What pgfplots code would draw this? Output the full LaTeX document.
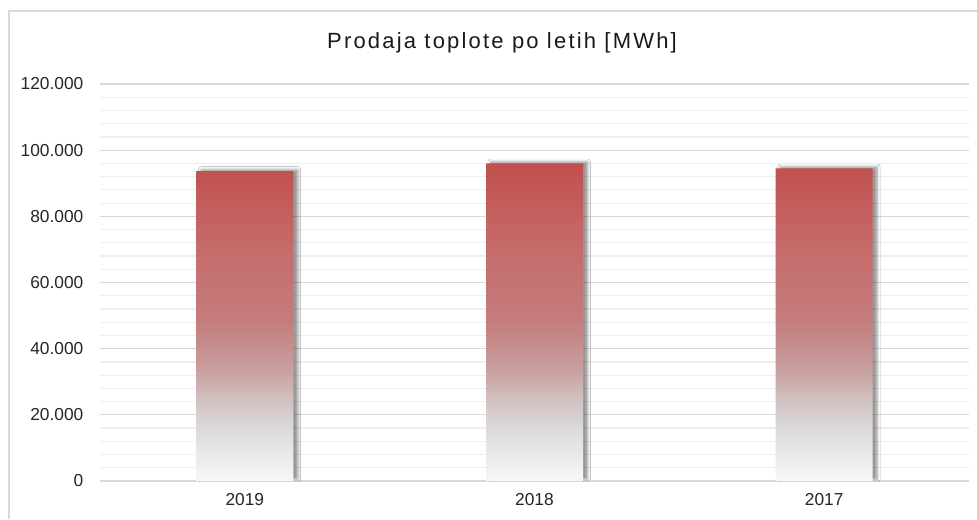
\documentclass[border=0pt]{standalone}
\usepackage{pgfplots}
\pgfplotsset{compat=1.18}
\usepackage{fontspec}
\setmainfont{Liberation Sans}
\newfontfamily\titlefont[LetterSpace=10]{Liberation Sans}
\usetikzlibrary{shadows.blur}
\definecolor{barred}{RGB}{192,80,77}
\definecolor{majgrid}{RGB}{217,217,217}
\definecolor{mingrid}{RGB}{238,238,238}
\definecolor{cA}{RGB}{248,248,248}
\definecolor{cB}{RGB}{222,222,222}
\definecolor{cC}{RGB}{210,195,195}
\definecolor{cD}{RGB}{201,160,160}
\definecolor{cE}{RGB}{196,125,125}
\definecolor{cG}{RGB}{198,105,105}
\definecolor{cF}{RGB}{192,80,77}
\pgfdeclareverticalshading{barshade}{100bp}{color(0bp)=(cA); color(25bp)=(cA); color(32.5bp)=(cB); color(37.5bp)=(cC); color(42.5bp)=(cD); color(50bp)=(cE); color(62.5bp)=(cG); color(75bp)=(cF); color(100bp)=(cF)}
\begin{document}
\begin{tikzpicture}[x=1pt,y=1pt]
\useasboundingbox (0,0) rectangle (732.75,389.25);
\fill[white] (0,0) rectangle (732.75,389.25);
\draw[majgrid, line width=1.5pt] (6.375,0) -- (6.375,381) -- (732.75,381);
\node[anchor=base, font=\titlefont\fontsize{16.5}{19}\selectfont, text=black!90] at (376.5,352.5) {Prodaja toplote po letih [MWh]};
\begin{axis}[
  at={(75pt,28.5pt)}, anchor=south west,
  scale only axis, width=651.75pt, height=297.75pt,
  xmin=-0.5, xmax=2.5, ymin=0, ymax=120000,
  xtick={0,1,2}, xticklabels={2019,2018,2017},
  ytick={0,20000,40000,60000,80000,100000,120000},
  minor y tick num=4,
  ymajorgrids, yminorgrids,
  major grid style={majgrid, line width=0.9pt},
  minor grid style={mingrid, line width=0.9pt},
  axis line style={draw=none},
  tick style={draw=none}, major tick length=0pt, minor tick length=0pt,
  scaled y ticks=false,
  /pgf/number format/fixed,
  /pgf/number format/1000 sep={.},
  /pgf/number format/assume math mode=true,
  ticklabel style={font=\fontsize{13}{15}\selectfont, text=black!85},
  yticklabel style={xshift=-9pt},
  xticklabel style={yshift=-6pt},
  ybar, bar width=72.75pt,
]
\addplot[draw=none, shading=barshade,
  blur shadow={shadow xshift=3.5pt, shadow yshift=1.2pt, shadow blur radius=2pt, shadow opacity=40}]
  coordinates {(0,93700) (1,96000) (2,94500)};
\end{axis}
\end{tikzpicture}
\end{document}
